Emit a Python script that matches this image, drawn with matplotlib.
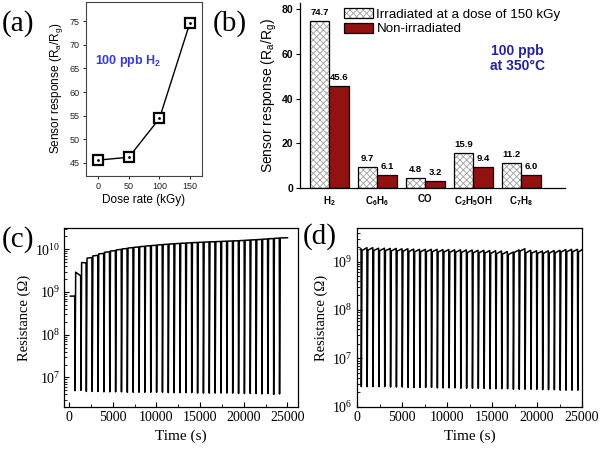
import matplotlib
matplotlib.use("Agg")
import matplotlib.pyplot as plt
import numpy as np
from matplotlib.patches import Patch
from matplotlib.legend_handler import HandlerTuple
from matplotlib.ticker import LogLocator, NullFormatter, AutoMinorLocator

plt.rcParams["font.family"] = ["Liberation Sans", "DejaVu Sans"]
plt.rcParams["hatch.linewidth"] = 0.6

SERIF = "Liberation Serif"

# (a) response vs dose
dose = [0, 50, 100, 150]
response_dose = [45.6, 46.2, 54.4, 74.7]

# (b) selectivity
gases = ["H$_\\mathdefault{2}$", "C$_\\mathdefault{6}$H$_\\mathdefault{6}$", "CO",
         "C$_\\mathdefault{2}$H$_\\mathdefault{5}$OH", "C$_\\mathdefault{7}$H$_\\mathdefault{8}$"]
irradiated = [74.7, 9.7, 4.8, 15.9, 11.2]
non_irradiated = [45.6, 6.1, 3.2, 9.4, 6.0]

# (c) irradiated sensor, repeated pulses
c_start = (150, 8.0e8)
c_end = (25000, 1.86e10)
c_times = [650, 1330, 1950, 2620, 3290, 3960, 4630, 5300, 5970, 6640, 7310, 7980,
           8650, 9320, 9990, 10660, 11330, 12000, 12670, 13340, 14010, 14680, 15350, 16020,
           16690, 17360, 18030, 18700, 19370, 20040, 20710, 21380, 22050, 22720, 23390, 24060]
c_base = [8.0e8, 2.4e9, 4.8e9, 6.4e9, 7.2e9, 8.0e9, 8.7e9, 9.3e9, 9.9e9, 1.04e10, 1.09e10, 1.13e10,
          1.17e10, 1.21e10, 1.24e10, 1.28e10, 1.31e10, 1.34e10, 1.37e10, 1.39e10, 1.42e10, 1.44e10, 1.46e10, 1.48e10,
          1.50e10, 1.52e10, 1.54e10, 1.56e10, 1.58e10, 1.61e10, 1.64e10, 1.67e10, 1.70e10, 1.74e10, 1.78e10, 1.82e10]
c_min = [4.9e6, 5.0e6, 4.7e6, 4.7e6, 4.7e6, 4.6e6, 4.6e6, 4.6e6, 4.6e6, 4.5e6, 4.5e6, 4.5e6,
         4.5e6, 4.5e6, 4.5e6, 4.5e6, 4.4e6, 4.4e6, 4.4e6, 4.4e6, 4.4e6, 4.3e6, 4.3e6, 4.3e6,
         4.3e6, 4.3e6, 4.3e6, 4.3e6, 4.2e6, 4.2e6, 4.2e6, 4.2e6, 4.1e6, 4.2e6, 4.0e6, 4.1e6]
c_after = [2.9e9, 4.9e9, 6.2e9, 7.0e9, 7.8e9, 8.5e9, 9.1e9, 9.7e9, 1.02e10, 1.07e10, 1.11e10, 1.15e10,
           1.19e10, 1.22e10, 1.26e10, 1.29e10, 1.32e10, 1.35e10, 1.38e10, 1.40e10, 1.43e10, 1.45e10, 1.47e10, 1.49e10,
           1.51e10, 1.53e10, 1.55e10, 1.57e10, 1.59e10, 1.62e10, 1.65e10, 1.68e10, 1.72e10, 1.76e10, 1.80e10, 1.84e10]

# (d) non-irradiated sensor, repeated pulses
d_start = (350, 1.8e9)
d_end = (25000, 1.78e9)
d_times = [450, 1100, 1750, 2400, 3050, 3700, 4350, 5000, 5650, 6300, 6950, 7600, 8250,
           8900, 9550, 10200, 10850, 11500, 12150, 12800, 13450, 14100, 14750, 15400, 16050,
           16700, 17350, 18000, 18650, 19300, 19950, 20600, 21250, 21900, 22550, 23200, 23850, 24500]
d_base = [1.85e9, 1.95e9, 1.95e9, 1.9e9, 1.9e9, 1.88e9, 1.88e9, 1.85e9, 1.85e9, 1.82e9, 1.8e9, 1.8e9, 1.8e9,
          1.8e9, 1.78e9, 1.78e9, 1.76e9, 1.76e9, 1.75e9, 1.74e9, 1.72e9, 1.72e9, 1.7e9, 1.68e9, 1.66e9,
          1.62e9, 1.58e9, 1.75e9, 1.85e9, 1.72e9, 1.68e9, 1.66e9, 1.68e9, 1.7e9, 1.72e9, 1.78e9, 1.8e9, 1.8e9]
d_min = [2.6e6, 2.6e6, 2.6e6, 2.6e6, 2.6e6, 2.55e6, 2.55e6, 2.55e6, 2.5e6, 2.5e6, 2.5e6, 2.5e6, 2.5e6,
         2.45e6, 2.45e6, 2.45e6, 2.45e6, 2.4e6, 2.4e6, 2.4e6, 2.4e6, 2.4e6, 2.35e6, 2.35e6, 2.35e6,
         2.35e6, 2.3e6, 2.3e6, 2.3e6, 2.3e6, 2.3e6, 2.25e6, 2.25e6, 2.25e6, 2.2e6, 2.2e6, 2.2e6, 2.2e6]
d_after = [1.7e9, 1.72e9, 1.7e9, 1.68e9, 1.68e9, 1.66e9, 1.65e9, 1.64e9, 1.62e9, 1.6e9, 1.6e9, 1.6e9, 1.6e9,
           1.58e9, 1.58e9, 1.56e9, 1.56e9, 1.55e9, 1.54e9, 1.52e9, 1.52e9, 1.5e9, 1.48e9, 1.46e9, 1.43e9,
           1.40e9, 1.55e9, 1.65e9, 1.52e9, 1.5e9, 1.48e9, 1.48e9, 1.5e9, 1.52e9, 1.58e9, 1.6e9, 1.6e9, 1.58e9]


def pulse_trace(start, end, times, base, rmin, after):
    t = [start[0]]
    r = [start[1]]
    for ti, b, m, a in zip(times, base, rmin, after):
        t += [ti, ti + 30, ti + 110]
        r += [b, m, a]
    t.append(end[0])
    r.append(end[1])
    return t, r


def serif_log_panel(ax, t, r, ylim, yticks, xlim):
    ax.plot(t, r, color="black", lw=1.1)
    ax.set_yscale("log")
    ax.set_ylim(*ylim)
    ax.set_xlim(*xlim)
    ax.set_yticks(yticks, labels=[r"$\mathdefault{10^{%d}}$" % int(np.log10(v)) for v in yticks],
                  fontfamily=SERIF, fontsize=10)
    ax.yaxis.set_minor_locator(LogLocator(base=10, subs=np.arange(2, 10)))
    ax.yaxis.set_minor_formatter(NullFormatter())
    xt = [0, 5000, 10000, 15000, 20000, 25000]
    ax.set_xticks(xt, labels=[str(v) for v in xt], fontfamily=SERIF, fontsize=10)
    ax.xaxis.set_minor_locator(AutoMinorLocator(2))
    ax.tick_params(which="both", direction="in", top=False, right=False, pad=3)
    ax.tick_params(which="major", length=3.5, width=0.8)
    ax.tick_params(which="minor", length=2, width=0.6)
    ax.set_xlabel("Time (s)", fontfamily=SERIF, fontsize=11, labelpad=4)
    ax.set_ylabel("Resistance (Ω)", fontfamily=SERIF, fontsize=10.5, labelpad=3)
    for s in ax.spines.values():
        s.set_linewidth(0.9)


fig = plt.figure(figsize=(6, 4.49), dpi=100)

# ---------- (a)
ax_a = fig.add_axes([0.1433, 0.6087, 0.1928, 0.3875])
ax_a.plot(dose, response_dose, color="black", lw=1.0, marker="s", ms=7, mfc="white", mec="black", mew=1.6)
ax_a.plot(dose, response_dose, ls="none", marker=".", ms=2, color="black")
ax_a.set_xlim(-20, 169)
ax_a.set_ylim(42.3, 79.1)
ax_a.set_xticks([0, 50, 100, 150])
ax_a.set_yticks([45, 50, 55, 60, 65, 70, 75])
ax_a.tick_params(labelsize=6.5, length=2.5, width=0.7, direction="out", pad=2, colors="#222222")
ax_a.set_xlabel("Dose rate (kGy)", fontsize=8.5, labelpad=2)
ax_a.set_ylabel("Sensor response (R$_\\mathdefault{a}$/R$_\\mathdefault{g}$)", fontsize=8.5, labelpad=3)
ax_a.text(0.08, 0.66, "100 ppb H$_\\mathdefault{2}$", transform=ax_a.transAxes, color="#3a3ad2",
          fontsize=9, fontweight="bold", va="center")
for s in ax_a.spines.values():
    s.set_linewidth(0.8)
    s.set_color("#444444")

# ---------- (b)
ax_b = fig.add_axes([0.5, 0.5806, 0.4417, 0.412])
x = np.arange(len(gases))
w = 0.41
ax_b.bar(x - w / 2, irradiated, w, color="white", edgecolor="#a0a0a0", hatch="xxxxx", lw=0)
ax_b.bar(x - w / 2, irradiated, w, facecolor="none", edgecolor="black", lw=0.9)
ax_b.bar(x + w / 2, non_irradiated, w, color="#921212", edgecolor="black", lw=0.9)
for xi, v in zip(x - w / 2, irradiated):
    ax_b.text(xi, v + 1.8, f"{v:.1f}", ha="center", va="bottom", fontsize=6.8, fontweight="bold")
for xi, v in zip(x + w / 2, non_irradiated):
    ax_b.text(xi, v + 1.8, f"{v:.1f}", ha="center", va="bottom", fontsize=6.8, fontweight="bold")
ax_b.set_xlim(-0.61, 4.91)
ax_b.set_ylim(0, 82.5)
ax_b.set_yticks([0, 20, 40, 60, 80])
ax_b.set_xticks(x, labels=gases, fontsize=7, fontweight="bold")
ax_b.tick_params(axis="y", labelsize=7.5, length=3, width=0.8, direction="out", pad=2)
for lbl in ax_b.get_yticklabels():
    lbl.set_fontweight("bold")
ax_b.tick_params(axis="x", length=0, pad=4)
ax_b.spines["top"].set_visible(False)
ax_b.spines["right"].set_visible(False)
ax_b.spines["left"].set_linewidth(0.9)
ax_b.spines["bottom"].set_linewidth(0.9)
ax_b.set_ylabel("Sensor response (R$_\\mathdefault{a}$/R$_\\mathdefault{g}$)", fontsize=10, labelpad=2)
h_irr = (Patch(facecolor="white", edgecolor="#a0a0a0", hatch="xxxxx", lw=0),
         Patch(facecolor="none", edgecolor="black", lw=0.9))
h_non = Patch(facecolor="#921212", edgecolor="black", lw=0.9)
ax_b.legend([h_irr, h_non], ["Irradiated at a dose of 150 kGy", "Non-irradiated"],
            handler_map={tuple: HandlerTuple(ndivide=1)}, loc="upper left",
            bbox_to_anchor=(0.165, 0.975), frameon=False, fontsize=9.6,
            handlelength=2.2, handleheight=0.8, handletextpad=0.25, labelspacing=0.15,
            borderpad=0, borderaxespad=0)
ax_b.text(0.82, 0.70, "100 ppb\nat 350°C", transform=ax_b.transAxes, color="#23239c",
          fontsize=10, fontweight="bold", ha="center", va="center", linespacing=1.1)

# ---------- (c)
ax_c = fig.add_axes([0.1072, 0.0929, 0.389, 0.3987])
tc, rc = pulse_trace(c_start, c_end, c_times, c_base, c_min, c_after)
serif_log_panel(ax_c, tc, rc, (2.0e6, 3.1e10), [1e7, 1e8, 1e9, 1e10], (-540, 26170))

# ---------- (d)
ax_d = fig.add_axes([0.595, 0.0942, 0.375, 0.3973])
td, rd = pulse_trace(d_start, d_end, d_times, d_base, d_min, d_after)
serif_log_panel(ax_d, td, rd, (1e6, 4.9e9), [1e6, 1e7, 1e8, 1e9], (0, 25000))

# panel letters
for lab, px, py in [("(a)", 2, 24), ("(b)", 213, 24), ("(c)", 2, 240), ("(d)", 303, 237)]:
    fig.text(px / 600, 1 - py / 449, lab, fontfamily=SERIF, fontsize=21, ha="left", va="center")

fig.savefig("out.png", dpi=100)
